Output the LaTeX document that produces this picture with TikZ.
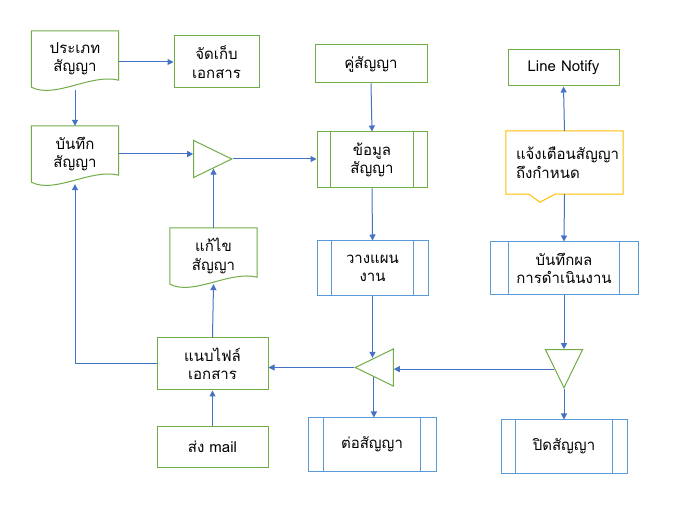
\documentclass[tikz,border=0pt]{standalone}
\usepackage{fontspec}
\setmainfont{Loma}[Script=Thai]
\usepackage{xcolor}
\usetikzlibrary{arrows.meta,shapes.geometric}
\definecolor{boxgreen}{HTML}{70AD47}
\definecolor{linkblue}{HTML}{4472C4}
\definecolor{procblue}{HTML}{5B9BD5}
\definecolor{warnyellow}{HTML}{FFC000}

\begin{document}
\begin{tikzpicture}[x=1pt,y=-1pt,font=\fontsize{15}{18.5}\selectfont,
  box/.style={draw=boxgreen,line width=1pt,align=center,inner sep=0pt},
  doc/.style={align=center,inner sep=0pt,minimum width=87pt,minimum height=56pt},
  proc/.style={draw=#1,line width=1pt,align=center,inner sep=0pt},
  tri/.style={isosceles triangle,isosceles triangle stretches,draw=boxgreen,line width=1pt,
    inner sep=0pt,minimum width=37pt,minimum height=38pt,shape border rotate=#1,anchor=apex},
  arr/.style={-{Triangle[length=6pt,width=6pt]},linkblue,line width=1pt}]
\fill[white] (0,0) rectangle (681,505);
\useasboundingbox (0,0) rectangle (681,505);

% left column
\node[doc] (kind) at (75,59) {ประเภท\\สัญญา};
\node[box,minimum width=85pt,minimum height=52pt] (store) at (216.5,62) {จัดเก็บ\\เอกสาร};
\node[doc] (record) at (75,154) {บันทึก\\สัญญา};
\node[tri=0] (merge) at (233,159) {};
\node[doc] (edit) at (213.5,256) {แก้ไข\\สัญญา};
\node[box,minimum width=111pt,minimum height=52pt] (attach) at (212.5,364) {แนบไฟล์\\เอกสาร};
\node[box,minimum width=111pt,minimum height=40pt] (mail) at (212.5,447) {ส่ง mail};

% middle column
\node[box,minimum width=112pt,minimum height=38pt] (partner) at (371,64) {คู่สัญญา};
\node[proc=boxgreen,minimum width=110pt,minimum height=56pt] (info) at (372,160) {ข้อมูล\\สัญญา};
\node[proc=procblue,minimum width=111pt,minimum height=55pt] (plan) at (372.5,268.5) {วางแผน\\งาน};
\node[tri=180] (split) at (354,367.5) {};
\node[proc=procblue,minimum width=128pt,minimum height=53pt] (renew) at (372,444.5) {ต่อสัญญา};

% right column
\node[box,minimum width=111pt,minimum height=36pt] (notify) at (563.5,68) {Line Notify};
\node[align=left,inner sep=0pt,text width=97pt,minimum width=117pt,minimum height=63pt] (warn) at (564.5,162.5) {แจ้งเตือนสัญญา\\ถึงกำหนด};
\node[proc=procblue,minimum width=148pt,minimum height=53pt] (result) at (564,268.5) {บันทึกผล\\การดำเนินงาน};
\node[tri=270] (check) at (564,389) {};
\node[proc=procblue,minimum width=126pt,minimum height=53pt] (close) at (564,446.5) {ปิดสัญญา};

% document and process outlines
\foreach \n in {kind,record,edit}
  \draw[boxgreen,line width=1pt] (\n.south west) -- (\n.north west) -- (\n.north east)
    -- ([yshift=7pt]\n.south east) .. controls ([xshift=-28pt,yshift=14pt]\n.south east)
    and ([xshift=24pt,yshift=-12pt]\n.south west) .. (\n.south west);
\foreach \n/\d/\c in {info/14/boxgreen,plan/15/procblue,renew/16/procblue,result/19/procblue,close/15/procblue}
  \draw[\c,line width=1pt] ([xshift=\d pt]\n.north west) -- ([xshift=\d pt]\n.south west)
    ([xshift=-\d pt]\n.north east) -- ([xshift=-\d pt]\n.south east);
\draw[warnyellow,line width=1pt] (warn.south west) -- (warn.north west) -- (warn.north east)
  -- (warn.south east) -- ([xshift=-9.5pt]warn.south) -- ([xshift=-24.5pt,yshift=-8pt]warn.south)
  -- ([xshift=-35.5pt]warn.south) -- cycle;

% connectors
\draw[arr] (store.west -| kind.east) -- (store.west);
\draw[arr] ([yshift=-3pt]kind.south) -- (record.north);
\draw[arr] (record.east) -- (record.east -| merge.left corner);
\draw[arr] (merge.apex) -- (merge.apex -| info.west);
\draw[arr] (edit.north) -- (edit.north |- merge.right side);
\draw[arr] (partner.south) -- (info.north);
\draw[arr] (info.south) -- (plan.north);
\draw[arr] (plan.south) -- (plan.south |- split.right side);
\draw[arr] (split.left side) -- (split.left side |- renew.north);
\draw[arr] (split.apex) -- (split.apex -| attach.east);
\draw[arr] (attach.north) -- (edit.south);
\draw[arr] (mail.north) -- (attach.south);
\draw[arr] (attach.west) -| ([yshift=-2pt]record.south);
\draw[arr] (warn.north) -- (notify.south);
\draw[arr] (warn.south) -- (result.north);
\draw[arr] (result.south) -- (check.lower side);
\draw[arr] (check.right side) -- (check.right side -| split.lower side);
\draw[arr] (check.apex) -- (close.north);
\end{tikzpicture}
\end{document}
